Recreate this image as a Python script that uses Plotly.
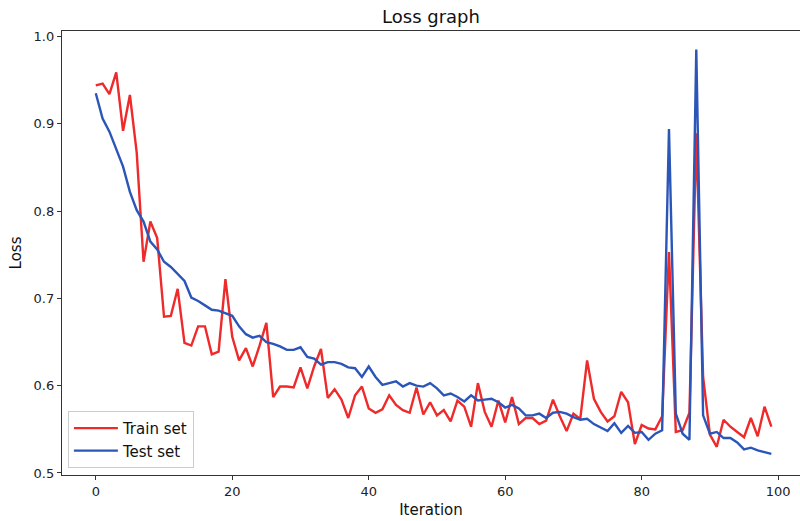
import plotly.graph_objects as go

iterations = list(range(100))

train_loss = [
    0.944, 0.946, 0.934, 0.959, 0.892, 0.933, 0.867, 0.742, 0.788, 0.769,
    0.679, 0.680, 0.711, 0.649, 0.646, 0.668, 0.668, 0.636, 0.639, 0.722,
    0.656, 0.629, 0.643, 0.622, 0.646, 0.672, 0.587, 0.599, 0.599, 0.598,
    0.621, 0.597, 0.622, 0.642, 0.586, 0.596, 0.584, 0.563, 0.589, 0.599,
    0.574, 0.569, 0.573, 0.589, 0.578, 0.572, 0.569, 0.598, 0.567, 0.581,
    0.566, 0.572, 0.559, 0.583, 0.576, 0.553, 0.603, 0.570, 0.553, 0.583,
    0.558, 0.587, 0.556, 0.563, 0.563, 0.556, 0.560, 0.584, 0.565, 0.548,
    0.568, 0.562, 0.629, 0.585, 0.570, 0.559, 0.565, 0.593, 0.581, 0.533,
    0.555, 0.551, 0.550, 0.565, 0.753, 0.547, 0.549, 0.569, 0.889, 0.610,
    0.544, 0.530, 0.561, 0.553, 0.547, 0.541, 0.563, 0.542, 0.576, 0.553,
]

test_loss = [
    0.935, 0.906, 0.891, 0.872, 0.851, 0.822, 0.801, 0.788, 0.765, 0.756,
    0.742, 0.736, 0.728, 0.720, 0.701, 0.697, 0.692, 0.687, 0.686, 0.683,
    0.680, 0.668, 0.659, 0.655, 0.657, 0.650, 0.648, 0.645, 0.641, 0.641,
    0.644, 0.633, 0.631, 0.624, 0.627, 0.627, 0.625, 0.621, 0.620, 0.610,
    0.622, 0.610, 0.601, 0.603, 0.605, 0.599, 0.603, 0.600, 0.599, 0.603,
    0.597, 0.589, 0.591, 0.587, 0.582, 0.589, 0.583, 0.584, 0.585, 0.581,
    0.575, 0.578, 0.574, 0.566, 0.566, 0.568, 0.563, 0.569, 0.570, 0.568,
    0.564, 0.561, 0.562, 0.556, 0.552, 0.548, 0.557, 0.546, 0.554, 0.546,
    0.547, 0.538, 0.545, 0.549, 0.894, 0.568, 0.545, 0.538, 0.985, 0.566,
    0.545, 0.547, 0.540, 0.540, 0.535, 0.527, 0.529, 0.526, 0.524, 0.522,
]

x_ticks = [0, 20, 40, 60, 80, 100]
y_ticks = [0.5, 0.6, 0.7, 0.8, 0.9, 1.0]

FONT = "DejaVu Sans"

fig = go.Figure()
fig.add_trace(go.Scatter(x=iterations, y=train_loss, mode="lines", name="Train set",
                         line=dict(color="#ee2a2a", width=2.4)))
fig.add_trace(go.Scatter(x=iterations, y=test_loss, mode="lines", name="Test set",
                         line=dict(color="#2b56b8", width=2.4)))

axis_common = dict(showgrid=False, zeroline=False, showline=True, linecolor="#333333",
                   linewidth=1.3, ticks="outside", ticklen=4, tickcolor="#333333",
                   tickfont=dict(family=FONT, size=13, color="#222222"))

fig.update_layout(
    width=800, height=521,
    margin=dict(l=62, r=0, t=31, b=46),
    paper_bgcolor="white", plot_bgcolor="white",
    font=dict(family=FONT, color="#222222"),
    title=dict(text="Loss graph", x=0.5, xref="paper", xanchor="center",
               y=0.967, yref="container", yanchor="middle",
               font=dict(family=FONT, size=18, color="#111111")),
    xaxis=dict(range=[-4.95, 103.2], tickvals=x_ticks, mirror=True,
               title=dict(text="Iteration", standoff=6,
                          font=dict(family=FONT, size=15, color="#111111")),
               **axis_common),
    yaxis=dict(range=[0.4977, 1.0063], tickvals=y_ticks, tickformat=".1f",
               title=dict(text="Loss", standoff=8,
                          font=dict(family=FONT, size=15, color="#111111")),
               **axis_common),
    legend=dict(x=0.008, y=0.016, xanchor="left", yanchor="bottom",
                bgcolor="rgba(255,255,255,0.85)", bordercolor="#cccccc", borderwidth=1,
                font=dict(family=FONT, size=15, color="#111111"),
                itemwidth=44, tracegroupgap=6),
    showlegend=True,
)

fig.write_html("out.html")
